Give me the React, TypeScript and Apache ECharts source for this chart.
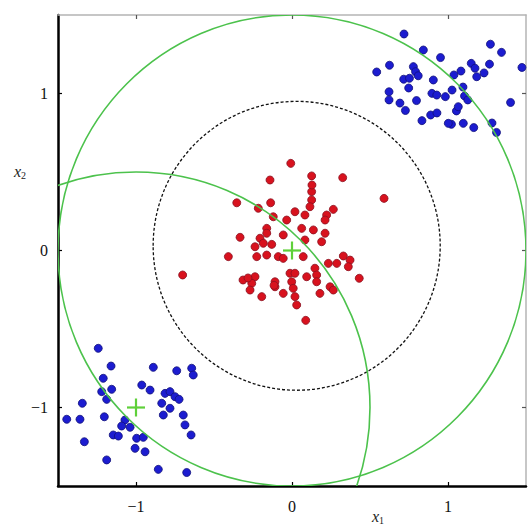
import React, { useEffect, useRef } from "react";
import * as echarts from "echarts";

// ---- data ----
const redX = [-0.008, -0.141, 0.126, 0.325, -0.354, -0.137, -0.216, 0.126, 0.126, 0.115, 0.019, 0.083, 0.265, 0.222, 0.212, -0.120, -0.034, -0.162, -0.162, 0.062, 0.137, 0.212, -0.056, -0.205, -0.333, 0.083, 0.190, -0.184, -0.130, -0.237, -0.408, -0.226, -0.162, -0.088, -0.056, 0.072, 0.233, 0.287, 0.329, 0.372, 0.361, -0.701, -0.237, -0.109, -0.109, -0.013, 0.019, -0.002, 0.008, 0.094, 0.147, 0.158, 0.158, -0.258, -0.269, -0.194, -0.056, 0.019, 0.179, 0.244, 0.265, 0.431, 0.030, 0.088, 0.590, -0.115, -0.314, -0.282, 0.128];
const redY = [0.555, 0.449, 0.475, 0.464, 0.304, 0.304, 0.269, 0.375, 0.322, 0.279, 0.247, 0.226, 0.262, 0.226, 0.194, 0.215, 0.194, 0.141, 0.110, 0.141, 0.131, 0.110, 0.099, 0.078, 0.084, 0.067, 0.056, 0.046, 0.039, 0.024, -0.039, -0.039, -0.029, -0.039, -0.050, -0.039, -0.082, -0.082, -0.035, -0.061, -0.103, -0.156, -0.167, -0.199, -0.231, -0.145, -0.145, -0.199, -0.241, -0.167, -0.113, -0.156, -0.199, -0.209, -0.252, -0.294, -0.273, -0.294, -0.273, -0.231, -0.252, -0.177, -0.347, -0.445, 0.332, -0.222, -0.188, -0.175, 0.417];

const blueTRX = [0.718, 0.842, 0.952, 1.272, 1.343, 1.474, 0.543, 0.625, 0.778, 0.792, 0.716, 0.753, 0.809, 0.906, 1.083, 1.149, 1.173, 1.184, 1.231, 1.266, 1.038, 0.622, 0.622, 0.748, 0.798, 0.897, 0.928, 0.983, 1.026, 1.096, 1.106, 1.127, 0.692, 0.727, 1.054, 1.066, 0.889, 0.929, 0.833, 1.022, 1.098, 1.165, 1.282, 1.311, 1.401, 1.002];
const blueTRY = [1.379, 1.277, 1.229, 1.314, 1.262, 1.166, 1.137, 1.180, 1.171, 1.139, 1.091, 1.097, 1.113, 1.086, 1.143, 1.192, 1.161, 1.107, 1.131, 1.187, 1.118, 1.011, 0.959, 1.035, 0.955, 1.001, 0.990, 0.980, 1.022, 1.041, 0.984, 0.959, 0.939, 0.892, 0.889, 0.916, 0.863, 0.876, 0.827, 0.804, 0.810, 0.783, 0.812, 0.752, 0.943, 0.810];

const blueLLX = [-1.242, -1.160, -0.889, -0.739, -0.643, -0.633, -1.210, -1.156, -1.220, -1.188, -0.963, -0.910, -0.814, -0.782, -0.750, -0.835, -0.782, -0.724, -1.344, -0.825, -0.697, -1.444, -1.359, -1.203, -1.071, -1.092, -1.038, -0.686, -0.647, -1.146, -1.113, -0.996, -0.953, -1.006, -0.942, -1.331, -1.188, -0.857, -0.675];
const blueLLY = [-0.623, -0.736, -0.744, -0.766, -0.750, -0.793, -0.814, -0.884, -0.899, -0.948, -0.857, -0.889, -0.910, -0.899, -0.931, -0.973, -1.005, -0.948, -0.973, -1.048, -1.048, -1.075, -1.075, -1.059, -1.080, -1.118, -1.126, -1.111, -1.175, -1.175, -1.182, -1.196, -1.190, -1.260, -1.282, -1.218, -1.334, -1.394, -1.414];

// circles: center x, center y, radius
const greenCircleX = [0, -1];
const greenCircleY = [0, -1];
const greenCircleR = [1.5, 1.5];
const blackCircleX = [0.03];
const blackCircleY = [0.03];
const blackCircleR = [0.92];

// centres marked with "+"
const plusX = [0, -1];
const plusY = [0, -1];

const tickValues = [-1, 0, 1];
const axisMin = -1.5;
const axisMax = 1.5;

const zip = (a: number[], b: number[]) => a.map((v, i) => [v, b[i]]);
const zip3 = (a: number[], b: number[], c: number[]) => a.map((v, i) => [v, b[i], c[i]]);

const fmt = (v: number) => (v < 0 ? "\u2212" + Math.abs(v) : String(v));
const serif = "'Liberation Serif', 'DejaVu Serif', serif";

export default function App() {
  const ref = useRef<HTMLDivElement>(null);
  useEffect(() => {
    if (!ref.current) return;
    const chart = echarts.init(ref.current, undefined, { renderer: "svg" });

    const circleRender = (stroke: string, lineWidth: number, lineDash?: number[]) =>
      (params: any, api: any) => {
        const c = api.coord([api.value(0), api.value(1)]);
        const s = api.size([api.value(2), api.value(2)]);
        return {
          type: "ellipse",
          shape: { cx: c[0], cy: c[1], rx: s[0], ry: s[1] },
          style: { fill: "none", stroke, lineWidth, lineDash },
          silent: true,
        };
      };

    const mainAxisLine = { lineStyle: { color: "#000", width: 2.5 } };
    const secAxisLine = { lineStyle: { color: "#b4b4b4", width: 1.5 } };
    const tick = (color: string) => ({
      inside: true,
      length: 4,
      customValues: tickValues,
      lineStyle: { color, width: 1.2 },
    });

    const blueStyle = { color: "#1c1cd0", borderColor: "#10107a", borderWidth: 0.8, opacity: 1 };

    chart.setOption({
      animation: false,
      backgroundColor: "#fff",
      grid: { left: 58, top: 15, right: 2, bottom: 38, containLabel: false },
      xAxis: [
        {
          type: "value",
          min: axisMin,
          max: axisMax,
          interval: 0.5,
          position: "bottom",
          axisLine: { show: true, onZero: false, ...mainAxisLine },
          axisTick: tick("#000"),
          axisLabel: {
            customValues: tickValues,
            formatter: fmt,
            fontFamily: serif,
            fontSize: 16,
            color: "#111",
            margin: 12,
          },
          splitLine: { show: false },
        },
        {
          type: "value",
          min: axisMin,
          max: axisMax,
          interval: 0.5,
          position: "top",
          axisLine: { show: true, onZero: false, ...secAxisLine },
          axisTick: tick("#555"),
          axisLabel: { show: false },
          splitLine: { show: false },
        },
      ],
      yAxis: [
        {
          type: "value",
          min: axisMin,
          max: axisMax,
          interval: 0.5,
          position: "left",
          axisLine: { show: true, onZero: false, ...mainAxisLine },
          axisTick: tick("#000"),
          axisLabel: {
            customValues: tickValues,
            formatter: fmt,
            fontFamily: serif,
            fontSize: 16,
            color: "#111",
            margin: 10,
          },
          splitLine: { show: false },
        },
        {
          type: "value",
          min: axisMin,
          max: axisMax,
          interval: 0.5,
          position: "right",
          axisLine: { show: true, onZero: false, ...secAxisLine },
          axisTick: tick("#555"),
          axisLabel: { show: false },
          splitLine: { show: false },
        },
      ],
      series: [
        {
          type: "scatter",
          data: zip(redX, redY),
          symbol: "circle",
          symbolSize: 8,
          itemStyle: { color: "#d8121e", borderColor: "#8a1020", borderWidth: 0.8, opacity: 1 },
        },
        {
          type: "scatter",
          data: zip(blueTRX, blueTRY),
          symbol: "circle",
          symbolSize: 8,
          itemStyle: blueStyle,
        },
        {
          type: "scatter",
          data: zip(blueLLX, blueLLY),
          symbol: "circle",
          symbolSize: 8,
          itemStyle: blueStyle,
        },
        {
          type: "custom",
          clip: true,
          data: zip3(blackCircleX, blackCircleY, blackCircleR),
          renderItem: circleRender("#111", 1.3, [3, 2]),
          z: 3,
        },
        {
          type: "custom",
          clip: true,
          data: zip3(greenCircleX, greenCircleY, greenCircleR),
          renderItem: circleRender("#4cc24c", 1.6),
          z: 4,
        },
        {
          type: "custom",
          clip: true,
          data: zip(plusX, plusY),
          z: 5,
          renderItem: (params: any, api: any) => {
            const c = api.coord([api.value(0), api.value(1)]);
            const h = 9;
            const st = { stroke: "#5fd03a", lineWidth: 2.2 };
            return {
              type: "group",
              children: [
                { type: "line", shape: { x1: c[0] - h, y1: c[1], x2: c[0] + h, y2: c[1] }, style: st },
                { type: "line", shape: { x1: c[0], y1: c[1] - h, x2: c[0], y2: c[1] + h }, style: st },
              ],
            };
          },
        },
      ],
      graphic: [
        {
          type: "text",
          left: 372,
          top: 508,
          style: {
            text: "{a|x}{b|1}",
            rich: {
              a: { fontFamily: serif, fontStyle: "italic", fontSize: 16, fill: "#222" },
              b: { fontFamily: serif, fontSize: 10, fill: "#222", padding: [8, 0, 0, 0] },
            },
          },
        },
        {
          type: "text",
          left: 14,
          top: 163,
          style: {
            text: "{a|x}{b|2}",
            rich: {
              a: { fontFamily: serif, fontStyle: "italic", fontSize: 16, fill: "#222" },
              b: { fontFamily: serif, fontSize: 10, fill: "#222", padding: [8, 0, 0, 0] },
            },
          },
        },
      ],
    });
    return () => chart.dispose();
  }, []);
  return (
    <div
      ref={ref}
      style={{ position: "fixed", left: 0, top: 0, width: 528, height: 524 }}
    />
  );
}
